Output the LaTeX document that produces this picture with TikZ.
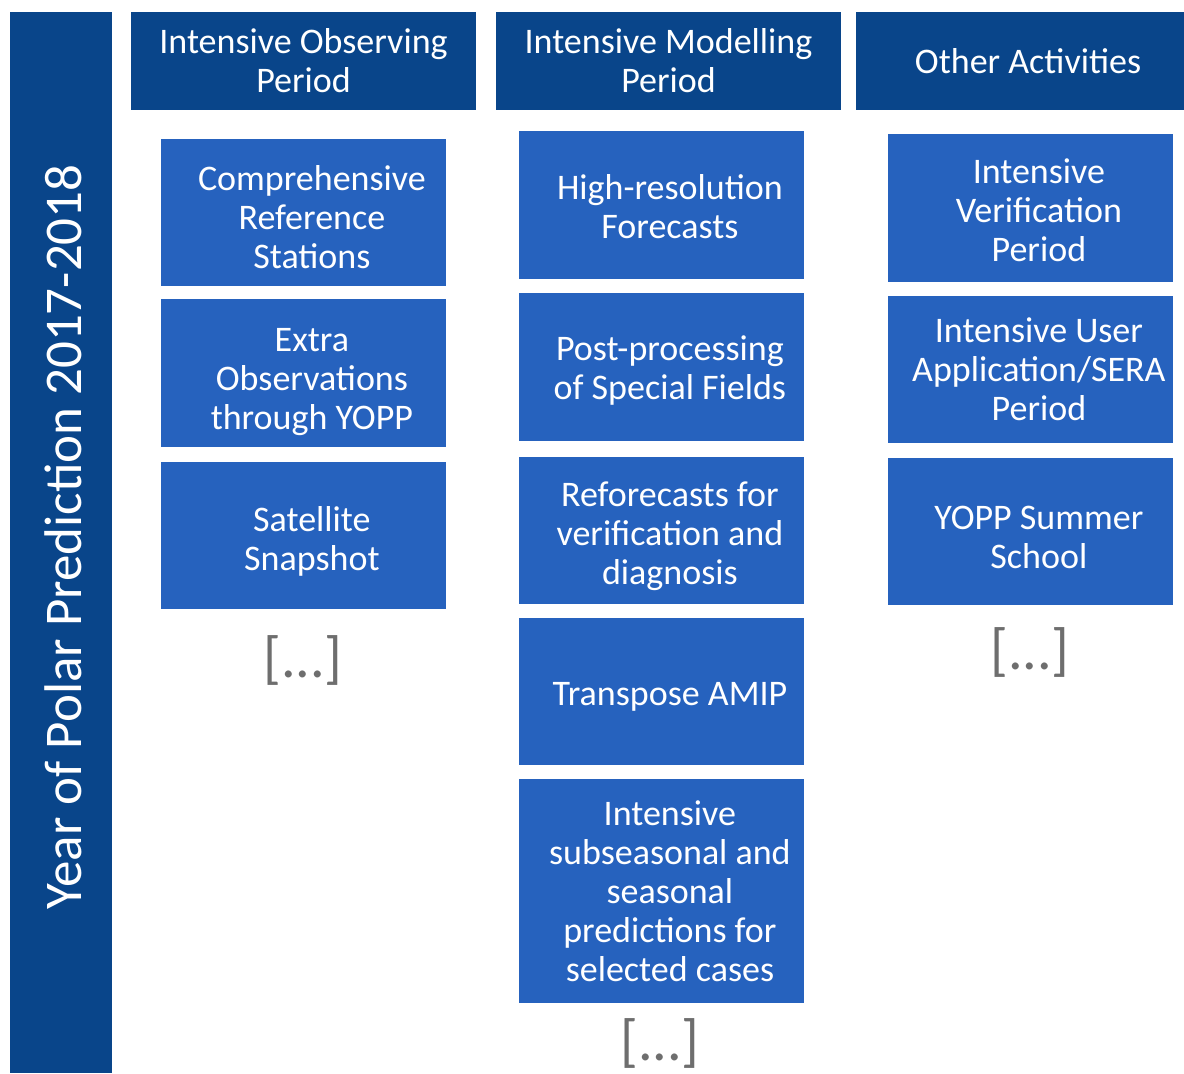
\documentclass[tikz,border=0pt]{standalone}
\usepackage{fontspec}
\setmainfont{Carlito}
\definecolor{darkblue}{RGB}{9,69,138}
\definecolor{boxblue}{RGB}{38,98,190}
\definecolor{dotgrey}{RGB}{110,110,110}
\newcommand{\itembox}[6][-2.5pt]{%
  \node[item, minimum height=#5] (#2) at (#3,#4) {};
  \node[itemtext] (#2t) at ([xshift=4.2pt,yshift=#1]#2.center) {#6};}
\begin{document}
\begin{tikzpicture}[x=0.5pt,y=-0.5pt,
  hdr/.style={fill=darkblue, draw=none, text=white, align=center, inner sep=0pt,
    font=\fontsize{18}{19.5}\selectfont},
  item/.style={fill=boxblue, draw=white, line width=0.6pt, inner sep=0pt, minimum width=143.5pt},
  itemtext/.style={text=white, align=center, inner sep=0pt, font=\fontsize{18}{19.5}\selectfont},
  more/.style={text=dotgrey, font=\fontsize{29}{30}\selectfont, inner sep=0pt}]
\useasboundingbox (0,0) rectangle (1184,1073);
\fill[white] (0,0) rectangle (1184,1073);
% left bar
\node[hdr, minimum width=51pt, minimum height=530.5pt] (year) at (61,542.5) {};
\node[text=white, inner sep=0pt, font=\fontsize{26.5}{28}\selectfont] (yeartext) at (63,537)
  {\rotatebox{90}{Year of Polar Prediction 2017-2018}};
% headers
\node[hdr, minimum width=172.5pt, minimum height=49pt] (h1) at (303.5,61) {Intensive Observing\\Period};
\node[hdr, minimum width=172.5pt, minimum height=49pt] (h2) at (668.5,61) {Intensive Modelling\\Period};
\node[hdr, minimum width=164pt, minimum height=49pt] (h3) at (1020,61) {};
\node[text=white, inner sep=0pt, font=\fontsize{18}{19.5}\selectfont] (h3t) at (1028,61) {Other Activities};
% column 1
\itembox{a1}{303.5}{212.5}{74.5pt}{Comprehensive\\Reference\\Stations}
\itembox[-4.5pt]{a2}{303.5}{373}{75pt}{Extra\\Observations\\through YOPP}
\itembox[-3pt]{a3}{303.5}{535.5}{74.5pt}{Satellite\\Snapshot}
\node[more] (a4) at (303,660) {[...]};
% column 2
\itembox[-1pt]{b1}{661.5}{205}{75pt}{High-resolution\\Forecasts}
\itembox[-2pt]{b2}{661.5}{367}{75pt}{Post-processing\\of Special Fields}
\itembox[-3pt]{b3}{661.5}{530.5}{74.5pt}{Reforecasts for\\verification and\\diagnosis}
\itembox[-2.5pt]{b4}{661.5}{691.5}{74.5pt}{Transpose AMIP}
\itembox[0pt]{b5}{661.5}{891}{113pt}{Intensive\\subseasonal and\\seasonal\\predictions for\\selected cases}
\node[more] (b6) at (660,1043) {[...]};
% column 3
\itembox[-1pt]{c1}{1030.5}{208}{75pt}{Intensive\\Verification\\Period}
\itembox[0pt]{c2}{1030.5}{369.5}{74.5pt}{Intensive User\\Application/SERA\\Period}
\itembox[-3pt]{c3}{1030.5}{531.5}{74.5pt}{YOPP Summer\\School}
\node[more] (c4) at (1030,652) {[...]};
\end{tikzpicture}
\end{document}
